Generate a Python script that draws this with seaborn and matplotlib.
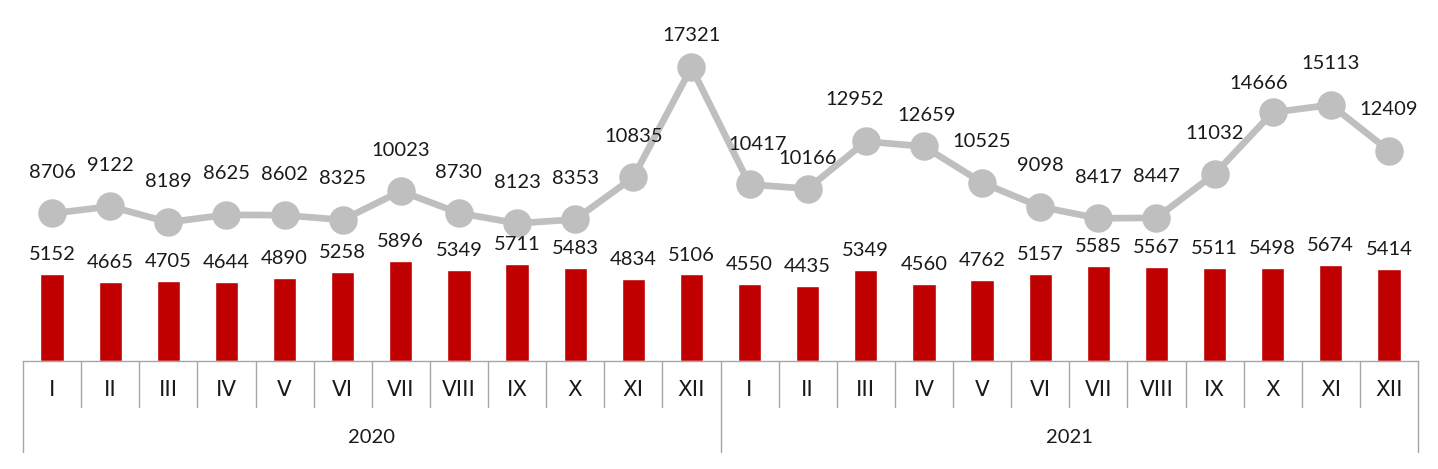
import matplotlib
matplotlib.use("Agg")
import matplotlib.pyplot as plt
import seaborn as sns
import numpy as np
import pandas as pd

# Data
months = ["I", "II", "III", "IV", "V", "VI", "VII", "VIII", "IX", "X", "XI", "XII"]
years = ["2020", "2021"]
bars_2020 = [5152, 4665, 4705, 4644, 4890, 5258, 5896, 5349, 5711, 5483, 4834, 5106]
bars_2021 = [4550, 4435, 5349, 4560, 4762, 5157, 5585, 5567, 5511, 5498, 5674, 5414]
line_2020 = [8706, 9122, 8189, 8625, 8602, 8325, 10023, 8730, 8123, 8353, 10835, 17321]
line_2021 = [10417, 10166, 12952, 12659, 10525, 9098, 8417, 8447, 11032, 14666, 15113, 12409]

BAR_COLOR = "#C00000"
LINE_COLOR = "#BFBFBF"
BORDER_COLOR = "#A6A6A6"
TEXT_COLOR = "#1a1a1a"
NUM_FONT = ["Lato", "DejaVu Sans"]
CAT_FONT = ["Liberation Sans Narrow", "DejaVu Sans"]

# label nudges (points) for a few line labels that sit off the default spot
LINE_LABEL_NUDGE = {11: (0, 23), 12: (6, 29), 13: (0, 22),
                    14: (-8, 30), 15: (2, 22), 21: (-10, 21)}

df = pd.DataFrame({
    "pos": np.arange(24),
    "bar": bars_2020 + bars_2021,
    "line": line_2020 + line_2021,
})

sns.set_style("white")

fig = plt.figure(figsize=(14.38, 4.69), dpi=100)
ax = fig.add_axes([23 / 1438, 108 / 469, 1395 / 1438, 361 / 469])

sns.barplot(data=df, x="pos", y="bar", color=BAR_COLOR, width=0.4,
            saturation=1, ax=ax)
sns.lineplot(data=df, x="pos", y="line", color=LINE_COLOR, linewidth=4.8,
             marker="o", markersize=20.5, markeredgewidth=0, ax=ax)

ax.set_xlim(-0.5, 23.5)
ax.set_ylim(0, 21300)
ax.set_xticks([])
ax.set_yticks([])
ax.set_xlabel("")
ax.set_ylabel("")
for side in ["top", "left", "right"]:
    ax.spines[side].set_visible(False)
ax.spines["bottom"].set_color(BORDER_COLOR)
ax.spines["bottom"].set_linewidth(1)

# value labels
for p, b, l in zip(df["pos"], df["bar"], df["line"]):
    ax.annotate(f"{b}", (p, b), xytext=(0, 14), textcoords="offset points",
                ha="center", va="center", fontsize=14.5, family=NUM_FONT, color=TEXT_COLOR)
    dx, dy = LINE_LABEL_NUDGE.get(p, (0, 29.5))
    ax.annotate(f"{l}", (p, l), xytext=(dx, dy), textcoords="offset points",
                ha="center", va="center", fontsize=14.5, family=NUM_FONT, color=TEXT_COLOR)

# category table below the axis
trans = ax.get_xaxis_transform()
month_bottom = -46 / 361
year_bottom = -91 / 361
for k in range(25):
    x = k - 0.5
    y0 = year_bottom if k % 12 == 0 else month_bottom
    ax.plot([x, x], [0, y0], color=BORDER_COLOR, linewidth=1,
            transform=trans, clip_on=False)
for i in range(24):
    ax.text(i, -29 / 361, months[i % 12], transform=trans, ha="center", va="center",
            fontsize=15.5, family=CAT_FONT, color=TEXT_COLOR)
for j, yr in enumerate(years):
    ax.text(j * 12 + 5.5, -76 / 361, yr, transform=trans, ha="center", va="center",
            fontsize=14.5, family=NUM_FONT, color=TEXT_COLOR)

fig.savefig("out.png", dpi=100)
plt.close(fig)
